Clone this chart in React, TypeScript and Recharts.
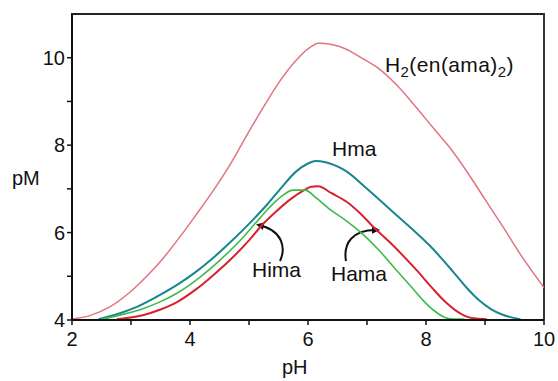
import React from 'react';
import {LineChart, Line, XAxis, YAxis, Customized} from 'recharts';

type Pt = {ph: number; pm: number};

const xTicks = [2, 3, 4, 5, 6, 7, 8, 9, 10];
const yTicks = [4, 5, 6, 7, 8, 9, 10];

const h2enama2: Pt[] = [
  {ph: 2.0, pm: 4.02}, {ph: 2.3, pm: 4.1}, {ph: 2.64, pm: 4.3},
  {ph: 2.95, pm: 4.6}, {ph: 3.25, pm: 4.98}, {ph: 3.55, pm: 5.42},
  {ph: 3.8, pm: 5.85}, {ph: 4.1, pm: 6.4}, {ph: 4.4, pm: 6.97},
  {ph: 4.7, pm: 7.6}, {ph: 4.96, pm: 8.22}, {ph: 5.25, pm: 8.88},
  {ph: 5.5, pm: 9.42}, {ph: 5.8, pm: 9.94}, {ph: 6.0, pm: 10.2},
  {ph: 6.18, pm: 10.33}, {ph: 6.4, pm: 10.3}, {ph: 6.64, pm: 10.2},
  {ph: 6.9, pm: 10.0}, {ph: 7.2, pm: 9.75}, {ph: 7.5, pm: 9.38},
  {ph: 7.8, pm: 8.92}, {ph: 8.1, pm: 8.43}, {ph: 8.4, pm: 7.95},
  {ph: 8.7, pm: 7.38}, {ph: 9.0, pm: 6.76}, {ph: 9.3, pm: 6.14},
  {ph: 9.6, pm: 5.5}, {ph: 10.0, pm: 4.74},
];

const hma: Pt[] = [
  {ph: 2.45, pm: 4.02}, {ph: 2.8, pm: 4.15}, {ph: 3.1, pm: 4.3},
  {ph: 3.5, pm: 4.58}, {ph: 3.8, pm: 4.82}, {ph: 4.1, pm: 5.1},
  {ph: 4.4, pm: 5.43}, {ph: 4.7, pm: 5.8}, {ph: 5.0, pm: 6.2},
  {ph: 5.3, pm: 6.63}, {ph: 5.55, pm: 7.03}, {ph: 5.8, pm: 7.4},
  {ph: 6.0, pm: 7.58}, {ph: 6.13, pm: 7.64}, {ph: 6.3, pm: 7.61},
  {ph: 6.64, pm: 7.41}, {ph: 7.0, pm: 7.0}, {ph: 7.35, pm: 6.58},
  {ph: 7.75, pm: 6.1}, {ph: 8.05, pm: 5.72}, {ph: 8.45, pm: 5.12},
  {ph: 8.7, pm: 4.72}, {ph: 8.9, pm: 4.45}, {ph: 9.1, pm: 4.25},
  {ph: 9.3, pm: 4.12}, {ph: 9.6, pm: 4.02},
];

const hima: Pt[] = [
  {ph: 2.5, pm: 4.02}, {ph: 2.9, pm: 4.14}, {ph: 3.2, pm: 4.26},
  {ph: 3.5, pm: 4.42}, {ph: 3.8, pm: 4.63}, {ph: 4.15, pm: 4.96},
  {ph: 4.5, pm: 5.36}, {ph: 4.85, pm: 5.82}, {ph: 5.1, pm: 6.2},
  {ph: 5.35, pm: 6.58}, {ph: 5.55, pm: 6.83}, {ph: 5.75, pm: 6.97},
  {ph: 5.95, pm: 6.97}, {ph: 6.15, pm: 6.78}, {ph: 6.4, pm: 6.5},
  {ph: 6.65, pm: 6.27}, {ph: 6.9, pm: 6.0}, {ph: 7.2, pm: 5.6},
  {ph: 7.5, pm: 5.14}, {ph: 7.75, pm: 4.76}, {ph: 7.95, pm: 4.45},
  {ph: 8.15, pm: 4.2}, {ph: 8.3, pm: 4.07}, {ph: 8.45, pm: 4.02},
  {ph: 8.65, pm: 4.02},
];

const hama: Pt[] = [
  {ph: 2.76, pm: 4.02}, {ph: 3.2, pm: 4.11}, {ph: 3.5, pm: 4.24},
  {ph: 3.78, pm: 4.41}, {ph: 4.1, pm: 4.7}, {ph: 4.39, pm: 5.02},
  {ph: 4.7, pm: 5.4}, {ph: 5.0, pm: 5.82}, {ph: 5.2, pm: 6.14},
  {ph: 5.45, pm: 6.47}, {ph: 5.7, pm: 6.76}, {ph: 5.95, pm: 6.98},
  {ph: 6.05, pm: 7.05}, {ph: 6.17, pm: 7.06}, {ph: 6.4, pm: 6.9},
  {ph: 6.66, pm: 6.7}, {ph: 6.9, pm: 6.42}, {ph: 7.1, pm: 6.14},
  {ph: 7.4, pm: 5.76}, {ph: 7.84, pm: 5.14}, {ph: 8.1, pm: 4.74},
  {ph: 8.3, pm: 4.45}, {ph: 8.5, pm: 4.22}, {ph: 8.65, pm: 4.1},
  {ph: 8.8, pm: 4.04}, {ph: 9.03, pm: 4.02},
];

const font = '"Liberation Sans", Arial, Helvetica, sans-serif';
const even = (v: number) => (v % 2 === 0 ? String(v) : '');

function Annotations() {
  return (
    <g fontFamily={font} fill="#111">
      <defs>
        <marker id="head" markerWidth="8" markerHeight="8" refX="6" refY="4"
          orient="auto" markerUnits="userSpaceOnUse">
          <path d="M0,0 L8,4 L0,8 Z" fill="#111" />
        </marker>
      </defs>
      {/* frame top + right */}
      <line x1={71} y1={14} x2={545} y2={14} stroke="#222" strokeWidth={2} />
      <line x1={544} y1={13} x2={544} y2={320} stroke="#333" strokeWidth={2} />
      <text x={385} y={72} fontSize={21} letterSpacing={0.4}>
        H<tspan fontSize={15} dy={5}>2</tspan>
        <tspan dy={-5}>(en(ama)</tspan>
        <tspan fontSize={15} dy={5}>2</tspan>
        <tspan dy={-5}>)</tspan>
      </text>
      <text x={332} y={156} fontSize={21}>Hma</text>
      <text x={252} y={277} fontSize={21}>Hima</text>
      <text x={331} y={281} fontSize={21}>Hama</text>
      <text x={12} y={185} fontSize={20}>pM</text>
      <text x={282} y={374} fontSize={20}>pH</text>
      <path d="M280,261 C286,248 283,230 258,225" fill="none" stroke="#111"
        strokeWidth={2} markerEnd="url(#head)" />
      <path d="M346,261 C343,244 352,229 378,230" fill="none" stroke="#111"
        strokeWidth={2} markerEnd="url(#head)" />
    </g>
  );
}

export default function App() {
  const tick = {fontSize: 20, fill: '#111', fontFamily: font};
  return (
    <div style={{position: 'absolute', left: 0, top: 0, background: '#fff'}}>
      <LineChart width={558} height={381}
        margin={{top: 14, right: 14, bottom: 0, left: 0}}>
        <XAxis dataKey="ph" type="number" domain={[2, 10]} ticks={xTicks}
          tickFormatter={even} height={61} tickSize={5} tickMargin={7}
          axisLine={{stroke: '#111', strokeWidth: 2}}
          tickLine={{stroke: '#111', strokeWidth: 1.5}} tick={tick}
          allowDataOverflow />
        <YAxis type="number" domain={[4, 11]} ticks={yTicks}
          tickFormatter={even} width={72} tickSize={5} tickMargin={2}
          axisLine={{stroke: '#111', strokeWidth: 2}}
          tickLine={{stroke: '#111', strokeWidth: 1.5}} tick={tick}
          allowDataOverflow />
        <Line data={h2enama2} dataKey="pm" type="monotone" stroke="#e3747f"
          strokeWidth={1.5} dot={false} isAnimationActive={false} />
        <Line data={hma} dataKey="pm" type="monotone" stroke="#17878c"
          strokeWidth={2} dot={false} isAnimationActive={false} />
        <Line data={hama} dataKey="pm" type="monotone" stroke="#d6222f"
          strokeWidth={2} dot={false} isAnimationActive={false} />
        <Line data={hima} dataKey="pm" type="monotone" stroke="#3dbb48"
          strokeWidth={1.6} dot={false} isAnimationActive={false} />
        <Customized component={Annotations} />
      </LineChart>
    </div>
  );
}
